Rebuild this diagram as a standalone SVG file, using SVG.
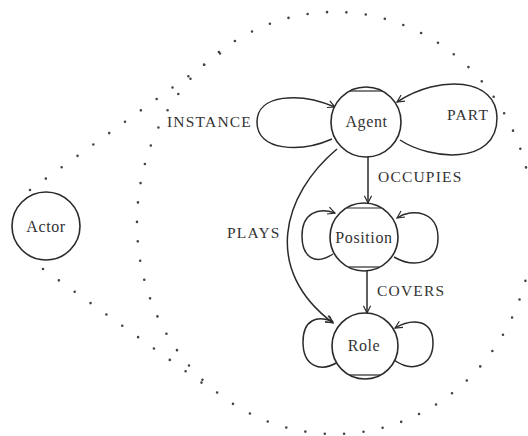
<svg xmlns="http://www.w3.org/2000/svg" width="528" height="436" viewBox="0 0 528 436">
<defs>
<marker id="arr" viewBox="0 0 10 10" refX="9" refY="5" markerWidth="9" markerHeight="9" markerUnits="userSpaceOnUse" orient="auto">
<path d="M1,1 L9,5 L1,9" fill="none" stroke="#2a2a2a" stroke-width="1.3"/>
</marker>
<style>
.node{fill:#fff;stroke:#2a2a2a;stroke-width:1.6}
.cap{fill:none;stroke:#2a2a2a;stroke-width:1.2}
.edge{fill:none;stroke:#2a2a2a;stroke-width:1.5}
.dot{fill:none;stroke:#444;stroke-width:2.6;stroke-linecap:round;stroke-dasharray:0 19.5}
.nl{font-family:"Liberation Serif",serif;font-size:16px;letter-spacing:0.6px;fill:#333;text-anchor:middle}
.el{font-family:"Liberation Serif",serif;font-size:15.5px;letter-spacing:1.2px;fill:#333}
</style>
</defs>
<rect width="528" height="436" fill="#fff"/>
<g id="boundaries">
<ellipse class="dot" cx="335" cy="223" rx="198" ry="211"/>
<path class="dot" d="M30,190 L222,52"/>
<path class="dot" d="M43,269 L209,388"/>
</g>
<g id="connectors">
<path class="edge" marker-end="url(#arr)" d="M332,139 C300,153 257,151 257,122 C257,94 300,92 335,107"/>
<path class="edge" marker-end="url(#arr)" d="M400,140 C430,160 497,166 497,118 C497,78 440,74 397,102"/>
<path class="edge" marker-end="url(#arr)" d="M368,157 L368,203"/>
<path class="edge" marker-end="url(#arr)" d="M337,149 C282,195 262,270 333,323"/>
<path class="edge" marker-end="url(#arr)" d="M333,254 C315,266 302,257 302,236 C302,213 318,207 335,213"/>
<path class="edge" marker-end="url(#arr)" d="M394,257 C415,269 438,263 438,238 C438,211 412,208 397,218"/>
<path class="edge" marker-end="url(#arr)" d="M367,271 L367,313"/>
<path class="edge" marker-end="url(#arr)" d="M338,362 C320,373 303,366 303,342 C303,319 318,315 333,322"/>
<path class="edge" marker-end="url(#arr)" d="M394,360 C412,373 433,366 433,343 C433,319 412,318 395,328"/>
</g>
<g id="labels">
<text class="el" x="167" y="127">INSTANCE</text>
<text class="el" x="447" y="120">PART</text>
<text class="el" x="378" y="182">OCCUPIES</text>
<text class="el" x="227" y="238">PLAYS</text>
<text class="el" x="377" y="296">COVERS</text>
</g>
<g id="actor">
<circle class="node" cx="46" cy="226" r="34"/>
<text class="nl" x="46" y="232">Actor</text>
</g>
<g id="agent">
<circle class="node" cx="366" cy="122" r="35"/>
<path class="cap" d="M350,91 L382,91"/>
<text class="nl" x="366.5" y="127">Agent</text>
</g>
<g id="position">
<circle class="node" cx="364" cy="237" r="34"/>
<path class="cap" d="M347,208 L381,208"/>
<path class="cap" d="M349,267 L379,267"/>
<text class="nl" x="364" y="243">Position</text>
</g>
<g id="role">
<circle class="node" cx="365" cy="346" r="33"/>
<path class="cap" d="M350,375 L380,375"/>
<text class="nl" x="364" y="351">Role</text>
</g>
</svg>
